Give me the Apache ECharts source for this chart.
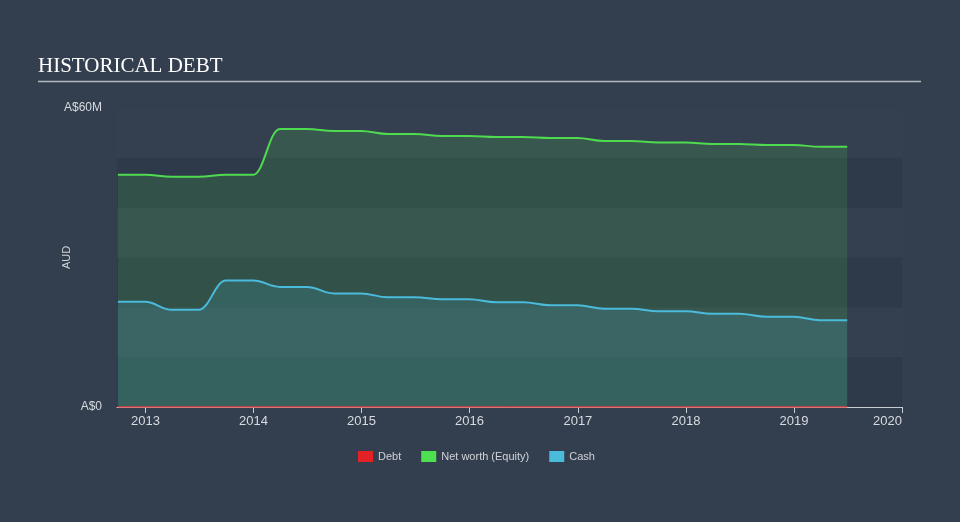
<!DOCTYPE html>
<html>
<head>
<meta charset="utf-8">
<script src="https://cdn.jsdelivr.net/npm/echarts@6/dist/echarts.min.js"></script>
<style>
html,body{margin:0;padding:0;background:#333f4f;}
#chart{width:960px;height:522px;}
</style>
</head>
<body>
<div id="chart"></div>
<script>
var dates = ['2012-09-30','2012-12-31','2013-03-31','2013-06-30','2013-09-30','2013-12-31',
  '2014-03-31','2014-06-30','2014-09-30','2014-12-31','2015-03-31','2015-06-30',
  '2015-09-30','2015-12-31','2016-03-31','2016-06-30','2016-09-30','2016-12-31',
  '2017-03-31','2017-06-30','2017-09-30','2017-12-31','2018-03-31','2018-06-30',
  '2018-09-30','2018-12-31','2019-03-31','2019-06-30'];
var debt = [0,0,0,0,0,0,0,0,0,0,0,0,0,0,0,0,0,0,0,0,0,0,0,0,0,0,0,0];
var equity = [46.6,46.6,46.2,46.2,46.6,46.6,55.8,55.8,55.4,55.4,54.8,54.8,54.4,54.4,
  54.2,54.2,54.0,54.0,53.4,53.4,53.1,53.1,52.8,52.8,52.6,52.6,52.2,52.2];
var cash = [21.1,21.1,19.5,19.5,25.4,25.4,24.1,24.1,22.8,22.8,22.0,22.0,21.6,21.6,
  21.0,21.0,20.4,20.4,19.7,19.7,19.2,19.2,18.7,18.7,18.1,18.1,17.4,17.4];
var yTickLabels = {0:'A$0', 60:'A$60M'};

function pairs(vals){ return dates.map(function(d,i){ return [d, vals[i]*1e6]; }); }

var chart = echarts.init(document.getElementById('chart'));
chart.setOption({
  backgroundColor:'#333f4f',
  animation:false,
  graphic:[
    {type:'text', left:38, top:56, style:{text:'HISTORICAL DEBT', fill:'#ffffff', font:'21px "Liberation Serif", "DejaVu Serif", serif'}},
    {type:'line', shape:{x1:38,y1:81.5,x2:921,y2:81.5}, style:{stroke:'#b4b8bf', lineWidth:1.5}}
  ],
  grid:{left:117, right:58, top:108, bottom:115, containLabel:false},
  legend:{
    top:446, left:353, icon:'rect', itemWidth:15, itemHeight:11, itemGap:20,
    textStyle:{color:'#d0d3d8', fontSize:11, fontFamily:'"Liberation Sans", Arial, sans-serif'},
    data:['Debt','Net worth (Equity)','Cash']
  },
  xAxis:{
    type:'time', min:'2012-09-27', max:'2020-01-01',
    minInterval:365*24*3600*1000, maxInterval:366*24*3600*1000,
    axisLine:{show:true, lineStyle:{color:'#c8ccd3', width:1}},
    axisTick:{show:true, length:6, lineStyle:{color:'#c8ccd3'}},
    axisLabel:{color:'#d8dbe0', fontSize:13, margin:8, formatter:'{yyyy}', showMaxLabel:true, alignMaxLabel:'right',
      fontFamily:'"Liberation Sans", Arial, sans-serif'},
    splitLine:{show:false}
  },
  yAxis:{
    type:'value', min:0, max:60e6, interval:10e6,
    name:'AUD', nameLocation:'middle', nameRotate:90, nameGap:45, nameMoveOverlap:false,
    nameTextStyle:{color:'#d0d3d8', fontSize:11, fontFamily:'"Liberation Sans", Arial, sans-serif'},
    axisLine:{show:false}, axisTick:{show:false},
    axisLabel:{color:'#d8dbe0', fontSize:12, margin:15, fontFamily:'"Liberation Sans", Arial, sans-serif',
      formatter:function(v){ var k=Math.round(v/1e6); return yTickLabels[k]!==undefined ? yTickLabels[k] : ''; }},
    splitLine:{show:false},
    splitArea:{show:true, areaStyle:{color:['#2e3949','#343f4f']}}
  },
  series:[
    {name:'Debt', type:'line', data:pairs(debt), showSymbol:false, smooth:0.4, smoothMonotone:'x',
      lineStyle:{color:'#e0383a', width:1.5}, itemStyle:{color:'#e32226'}, z:3},
    {name:'Net worth (Equity)', type:'line', data:pairs(equity), showSymbol:false, smooth:0.4, smoothMonotone:'x',
      lineStyle:{color:'#4fdb4f', width:2}, itemStyle:{color:'#4fe04f'},
      areaStyle:{color:'rgba(77,220,77,0.22)', origin:'start'}, z:2},
    {name:'Cash', type:'line', data:pairs(cash), showSymbol:false, smooth:0.4, smoothMonotone:'x',
      lineStyle:{color:'#4bbbdc', width:2}, itemStyle:{color:'#4bbbdc'},
      areaStyle:{color:'rgba(75,185,222,0.22)', origin:'start'}, z:2}
  ]
});
</script>
</body>
</html>
